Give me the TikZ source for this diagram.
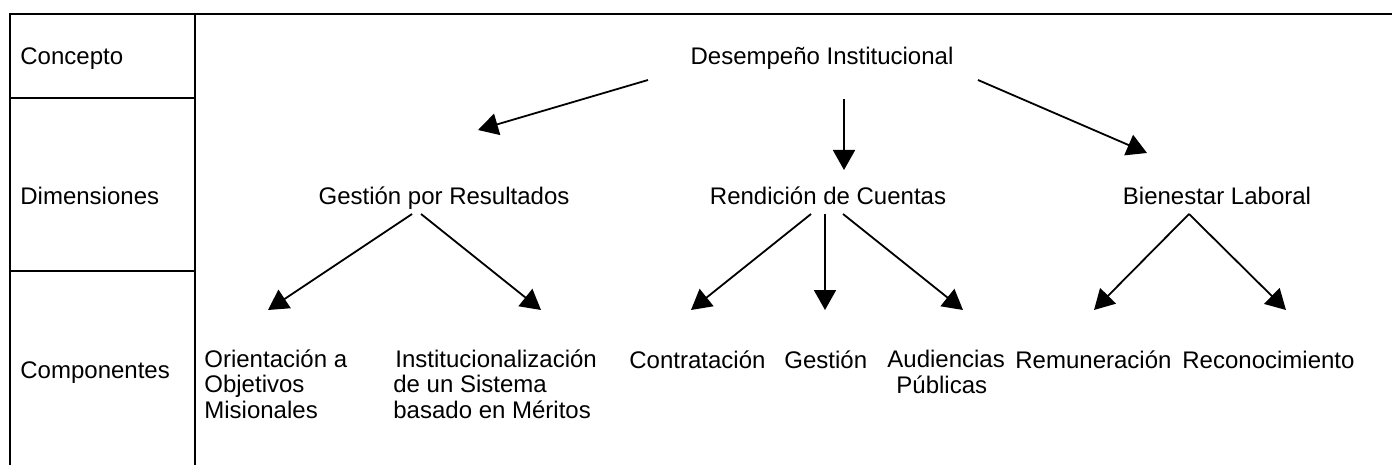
\documentclass[tikz,border=0pt]{standalone}
\usepackage{fontspec}
\setmainfont{Liberation Sans}
\usetikzlibrary{arrows.meta}
\begin{document}
\begin{tikzpicture}[x=0.5pt,y=-0.5pt,
  every node/.style={inner sep=0pt, font=\fontsize{12pt}{12.6pt}\selectfont},
  grid/.style={line width=1.25pt},
  link/.style={line width=0.9pt, -{Triangle[length=10pt,width=11pt]}},
  lbl/.style={anchor=base west},
  ctr/.style={anchor=base},
  multi/.style={anchor=base west, align=left}]
\useasboundingbox (0,0) rectangle (1392,465);
% table frame
\draw[grid] (10,465) -- (10,14) -- (1392,14);
\draw[grid] (195,14) -- (195,465);
\draw[grid] (10,98) -- (195,98);
\draw[grid] (10,271) -- (195,271);
% row labels
\node[lbl] (concepto) at (20,65) {Concepto};
\node[lbl] (dimensiones) at (20,204) {Dimensiones};
\node[lbl] (componentes) at (20,378) {Componentes};
% concept
\node[ctr] (des) at (822,65) {Desempeño Institucional};
% dimensions
\node[ctr] (gpr) at (444,204) {Gestión por Resultados};
\node[ctr] (rdc) at (828,204) {Rendición de Cuentas};
\node[ctr] (bl) at (1217,204) {Bienestar Laboral};
% components (multi-line nodes are placed by the baseline of their last line)
\node[multi] (ori) at (204,418) {Orientación a\\Objetivos\\Misionales};
\node[multi] (ins) at (393,418) {\hspace*{1pt}Institucionalización\\de un Sistema\\basado en Méritos};
\node[lbl] (con) at (629,368) {Contratación};
\node[lbl] (ges) at (784,368) {Gestión};
\node[multi] (aud) at (887,393) {Audiencias\\\hspace*{4.5pt}Públicas};
\node[lbl] (rem) at (1015,368) {Remuneración};
\node[lbl] (rec) at (1182,368) {Reconocimiento};
% connector end points
\coordinate (des-g) at (648,80);
\coordinate (des-r) at (844,99);
\coordinate (des-b) at (978,80);
\coordinate (gpr-in) at (478,130);
\coordinate (rdc-in) at (844,170);
\coordinate (bl-in) at (1147,153);
\coordinate (gpr-o) at (412,214);
\coordinate (gpr-i) at (421,214);
\coordinate (ori-in) at (268,310);
\coordinate (ins-in) at (541,310);
\coordinate (rdc-c) at (811,214);
\coordinate (rdc-g) at (825,214);
\coordinate (rdc-a) at (843,214);
\coordinate (con-in) at (691,310);
\coordinate (ges-in) at (825,310);
\coordinate (aud-in) at (963,310);
\coordinate (bl-o) at (1189,214);
\coordinate (rem-in) at (1094,310);
\coordinate (rec-in) at (1286,310);
% connectors
\draw[link] (des-g) -- (gpr-in);
\draw[link] (des-r) -- (rdc-in);
\draw[link] (des-b) -- (bl-in);
\draw[link] (gpr-o) -- (ori-in);
\draw[link] (gpr-i) -- (ins-in);
\draw[link] (rdc-c) -- (con-in);
\draw[link] (rdc-g) -- (ges-in);
\draw[link] (rdc-a) -- (aud-in);
\draw[link] (bl-o) -- (rem-in);
\draw[link] (bl-o) -- (rec-in);
\end{tikzpicture}
\end{document}
